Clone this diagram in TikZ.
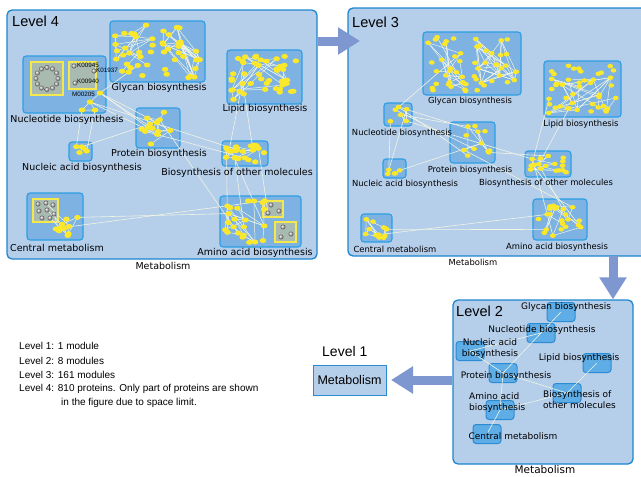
\documentclass[tikz,border=0pt]{standalone}
\usepackage{fontspec}
\setmainfont{Liberation Sans}
\newfontfamily\lucfont{DejaVu Sans}
\usetikzlibrary{arrows.meta,fit,shapes.geometric,positioning}

\definecolor{panelfill}{HTML}{B5CEEA}
\definecolor{paneledge}{HTML}{1E86CF}
\definecolor{modfill}{HTML}{7DB2E3}
\definecolor{modedge}{HTML}{2C9FE3}
\definecolor{lvtwofill}{HTML}{5EADE6}
\definecolor{lvtwoedge}{HTML}{2B8BD3}
\definecolor{dotyellow}{HTML}{FCE82A}
\definecolor{grpedge}{HTML}{F5E84C}
\definecolor{grpfill}{HTML}{A9BBB0}
\definecolor{weblines}{HTML}{F0F4E4}
\definecolor{arrowblue}{HTML}{7E97D0}

\pgfdeclarelayer{back}
\pgfdeclarelayer{lines}
\pgfsetlayers{back,lines,main}

% yellow proteins scattered in a module
\newcommand{\protdots}[7]{%
  \foreach \k in {1,...,#6}{
    \pgfmathsetmacro{\dotx}{#2+4+rnd*(#4-#2-8)}
    \pgfmathsetmacro{\doty}{#3+4+rnd*(#5-#3-8)}
    \node[#7] (#1-\k) at (\dotx,\doty) {};
  }%
}
% interactions among the first proteins of a module
\newcommand{\protweb}[3]{%
  \begin{pgfonlayer}{lines}
  \foreach \k in {1,...,#3}{
    \pgfmathtruncatemacro{\ea}{min(#2,1+floor(rnd*#2))}
    \pgfmathtruncatemacro{\eb}{min(#2,1+floor(rnd*#2))}
    \draw[web] (#1-\ea.center) -- (#1-\eb.center);
  }
  \end{pgfonlayer}%
}

\begin{document}
\begin{tikzpicture}[x=1pt,y=-1pt,
  panel/.style={draw=paneledge,fill=panelfill,line width=1.3pt,rounded corners=5pt,inner sep=0pt},
  module/.style={draw=modedge,fill=modfill,line width=1.1pt,rounded corners=3pt,inner sep=0pt},
  lvtwo/.style={draw=lvtwoedge,fill=lvtwofill,line width=1pt,rounded corners=3pt,minimum width=28pt,minimum height=19pt},
  grp/.style={draw=grpedge,fill=grpfill,line width=1.2pt,inner sep=0pt},
  pdot/.style={ellipse,fill=dotyellow,inner sep=0pt,minimum width=6.6pt,minimum height=5pt},
  sdot/.style={ellipse,fill=dotyellow,inner sep=0pt,minimum width=5.8pt,minimum height=4.5pt},
  gball/.style={circle,ball color=gray!60,inner sep=0pt,minimum size=5pt},
  web/.style={draw=weblines,line width=0.5pt},
  link/.style={draw=weblines,line width=0.6pt},
  title/.style={font=\fontsize{14.5}{16}\selectfont,anchor=west,inner sep=0pt},
  modlabel/.style={font=\lucfont\fontsize{9.5}{11}\selectfont,inner sep=0pt},
  smalllabel/.style={font=\lucfont\fontsize{8.4}{10}\selectfont,inner sep=0pt},
  twolabel/.style={font=\lucfont\fontsize{9}{11.5}\selectfont,inner sep=0pt},
  kegg/.style={font=\fontsize{6.3}{7}\selectfont,anchor=west,inner sep=0pt},
  legend/.style={font=\fontsize{10}{12}\selectfont,anchor=west,inner sep=0pt},
  bigarrow/.style={draw=arrowblue,line width=9pt,-{Triangle[width=26pt,length=22pt]}}]

\useasboundingbox (0,0) rectangle (641,477);
\pgfmathsetseed{41}

% ---------------- Level 4 ----------------
\begin{pgfonlayer}{back}
\node[panel,fit={(7,10) (317,259)}] (lv4) {};
\node[module,fit={(110,21) (205,82)}] (gly4) {};
\node[module,fit={(227,50) (302,104)}] (lip4) {};
\node[module,fit={(23,56) (106,113)}] (nuc4) {};
\node[module,fit={(136,108) (180,148)}] (pro4) {};
\node[module,fit={(69,142) (92,161)}] (nca4) {};
\node[module,fit={(222,141) (268,166)}] (bio4) {};
\node[module,fit={(27,193) (83,240)}] (cen4) {};
\node[module,fit={(220,196) (301,247)}] (ami4) {};
\node[grp,fit={(31,62) (63,95)}] (nuc4ring) {};
\node[grp,fit={(69,62) (96,89)}] (nuc4kegg) {};
\node[grp,fit={(33,199) (58,222)}] (cen4grp) {};
\node[grp,fit={(263,201) (283,217)}] (ami4grpa) {};
\node[grp,fit={(275,222) (296,242)}] (ami4grpb) {};
\end{pgfonlayer}
\node[title] (lv4-title) at (12,21) {Level 4};

\protdots{gly4a}{110}{21}{158}{82}{24}{pdot}
\protdots{gly4b}{158}{21}{205}{82}{24}{pdot}
\protweb{gly4a}{16}{22}
\protweb{gly4b}{12}{45}
\protdots{lip4}{227}{50}{302}{104}{44}{pdot}
\protweb{lip4}{15}{26}
\protdots{pro4}{136}{108}{180}{148}{14}{pdot}
\protweb{pro4}{12}{14}
\protdots{nca4}{69}{142}{92}{161}{5}{pdot}
\protdots{bio4}{222}{141}{268}{166}{20}{pdot}
\protweb{bio4}{12}{12}
\protdots{cen4}{48}{212}{84}{241}{10}{pdot}
\protweb{cen4}{10}{12}
\protdots{ami4}{220}{196}{270}{248}{24}{pdot}
\protweb{ami4}{18}{20}

% nucleotide module
\node[pdot] (nuc4-1) at (100,93) {};
\node[pdot] (nuc4-2) at (90,102) {};
\node[pdot] (nuc4-3) at (82,110) {};
\node[pdot] (nuc4-4) at (95,110) {};
\foreach \a in {0,30,...,330}
  \node[gball] (nuc4r-\a) at ({47+11*cos(\a)},{78.5+11*sin(\a)}) {};
\node[gball] (k945) at (74,66) {};
\node[gball] (k1937) at (94,71) {};
\node[gball] (k940) at (75,83) {};
\node[kegg] (k945-lab) at (77,65) {K00945};
\node[kegg] (k1937-lab) at (96,70) {K01937};
\node[kegg] (k940-lab) at (77,81) {K00940};
\node[kegg] (m205-lab) at (72,94) {M00205};

% central and amino acid groups
\foreach \gx/\gy [count=\i] in {38/204,46/203,53/205,39/211,47/210,54/214,42/218,50/218}
  \node[gball] (cen4g-\i) at (\gx,\gy) {};
\foreach \gx/\gy [count=\i] in {271/205,268/213,279/211,283/227,281/237,291/234}
  \node[gball] (ami4g-\i) at (\gx,\gy) {};

\begin{pgfonlayer}{lines}
\draw[web] (nuc4-1.center) -- (nuc4-2.center) -- (nuc4-3.center) -- (nuc4-4.center) -- (nuc4-2.center);
\draw[web] (cen4g-2.center) -- (cen4-1.center);
\draw[web] (cen4g-5.center) -- (cen4-3.center);
\draw[web] (cen4g-6.center) -- (cen4-5.center);
\draw[web] (cen4g-8.center) -- (cen4-2.center);
\draw[link] (nuc4-1.center) -- (gly4a-3.center);
\draw[link] (nuc4-1.center) -- (pro4-1.center);
\draw[link] (nuc4-1.center) -- (pro4-4.center);
\draw[link] (nuc4-2.center) -- (pro4-6.center);
\draw[link] (nuc4-1.center) -- (pro4-9.center);
\draw[link] (nuc4-2.center) -- (bio4-2.center);
\draw[link] (nuc4-3.center) -- (nca4-1.center);
\draw[link] (nuc4-4.center) -- (nca4-2.center);
\draw[link] (nca4-3.center) -- (pro4-7.center);
\draw[link] (pro4-5.center) -- (bio4-1.center);
\draw[link] (pro4-8.center) -- (ami4-3.center);
\draw[link] (bio4-3.center) -- (lip4-20.center);
\draw[link] (bio4-4.center) -- (lip4-25.center);
\draw[link] (bio4-6.center) -- (ami4-1.center);
\draw[link] (bio4-7.center) -- (ami4-5.center);
\draw[link] (bio4-8.center) -- (ami4-9.center);
\draw[link] (bio4-9.center) -- (ami4g-2.center);
\draw[link] (cen4-2.center) -- (ami4-4.center);
\draw[link] (cen4-6.center) -- (ami4-7.center);
\end{pgfonlayer}

\node[modlabel] (gly4-lab) at (159,88) {Glycan biosynthesis};
\node[modlabel] (lip4-lab) at (265,109) {Lipid biosynthesis};
\node[modlabel] (nuc4-lab) at (67,120) {Nucleotide biosynthesis};
\node[modlabel] (pro4-lab) at (159,154) {Protein biosynthesis};
\node[modlabel] (nca4-lab) at (82,168) {Nucleic acid biosynthesis};
\node[modlabel] (bio4-lab) at (237,173) {Biosynthesis of other molecules};
\node[modlabel] (cen4-lab) at (57,248) {Central metabolism};
\node[modlabel] (ami4-lab) at (255,253) {Amino acid biosynthesis};
\node[modlabel] (lv4-cap) at (163,266) {Metabolism};

% ---------------- Level 3 ----------------
\begin{pgfonlayer}{back}
\node[panel,fit={(348,8) (650,256)}] (lv3) {};
\node[module,fit={(423,32) (521,95)}] (gly3) {};
\node[module,fit={(544,61) (621,117)}] (lip3) {};
\node[module,fit={(384,103) (412,126)}] (nuc3) {};
\node[module,fit={(450,122) (495,163)}] (pro3) {};
\node[module,fit={(383,159) (406,178)}] (nca3) {};
\node[module,fit={(525,151) (571,177)}] (bio3) {};
\node[module,fit={(361,214) (392,242)}] (cen3) {};
\node[module,fit={(533,199) (587,240)}] (ami3) {};
\end{pgfonlayer}
\node[title] (lv3-title) at (352,22) {Level 3};

\protdots{gly3a}{423}{32}{470}{95}{28}{sdot}
\protdots{gly3b}{470}{32}{521}{95}{26}{sdot}
\protweb{gly3a}{16}{24}
\protweb{gly3b}{12}{45}
\protdots{lip3}{544}{61}{621}{117}{44}{sdot}
\protweb{lip3}{15}{28}
\protdots{nuc3}{384}{103}{412}{126}{6}{sdot}
\protweb{nuc3}{6}{6}
\protdots{pro3}{450}{122}{495}{163}{12}{sdot}
\protweb{pro3}{10}{10}
\protdots{nca3}{383}{159}{406}{178}{5}{sdot}
\protdots{bio3}{525}{151}{571}{177}{18}{sdot}
\protweb{bio3}{12}{10}
\protdots{cen3}{361}{214}{392}{242}{12}{sdot}
\protweb{cen3}{12}{14}
\protdots{ami3}{533}{199}{587}{240}{22}{sdot}
\protweb{ami3}{16}{16}

\begin{pgfonlayer}{lines}
\draw[link] (nuc3-1.center) -- (gly3a-5.center);
\draw[link] (nuc3-1.center) -- (pro3-1.center);
\draw[link] (nuc3-2.center) -- (pro3-3.center);
\draw[link] (nuc3-3.center) -- (pro3-5.center);
\draw[link] (nuc3-2.center) -- (pro3-8.center);
\draw[link] (nuc3-4.center) -- (bio3-2.center);
\draw[link] (nuc3-5.center) -- (nca3-1.center);
\draw[link] (nuc3-6.center) -- (nca3-2.center);
\draw[link] (nca3-3.center) -- (pro3-6.center);
\draw[link] (pro3-4.center) -- (bio3-1.center);
\draw[link] (pro3-7.center) -- (ami3-3.center);
\draw[link] (bio3-3.center) -- (lip3-20.center);
\draw[link] (bio3-4.center) -- (lip3-25.center);
\draw[link] (bio3-6.center) -- (ami3-1.center);
\draw[link] (bio3-7.center) -- (ami3-5.center);
\draw[link] (bio3-8.center) -- (ami3-9.center);
\draw[link] (cen3-2.center) -- (ami3-4.center);
\draw[link] (cen3-6.center) -- (ami3-7.center);
\end{pgfonlayer}

\node[smalllabel] (gly3-lab) at (470,101) {Glycan biosynthesis};
\node[smalllabel] (lip3-lab) at (581,124) {Lipid biosynthesis};
\node[smalllabel] (nuc3-lab) at (402,133) {Nucleotide biosynthesis};
\node[smalllabel] (pro3-lab) at (470,170) {Protein biosynthesis};
\node[smalllabel] (nca3-lab) at (405,184) {Nucleic acid biosynthesis};
\node[smalllabel] (bio3-lab) at (546,183) {Biosynthesis of other molecules};
\node[smalllabel] (cen3-lab) at (395,249) {Central metabolism};
\node[smalllabel] (ami3-lab) at (557,247) {Amino acid biosynthesis};
\node[smalllabel] (lv3-cap) at (473,262) {Metabolism};

% ---------------- Level 2 ----------------
\begin{pgfonlayer}{back}
\node[panel,fit={(453,300) (633,464)}] (lv2) {};
\node[lvtwo] (gly2) at (561,312) {};
\node[lvtwo] (nuc2) at (541,333) {};
\node[lvtwo] (nca2) at (470,351) {};
\node[lvtwo] (lip2) at (597,363) {};
\node[lvtwo] (pro2) at (503,373) {};
\node[lvtwo] (bio2) at (567,393) {};
\node[lvtwo] (ami2) at (500,410) {};
\node[lvtwo] (cen2) at (487,434) {};
\end{pgfonlayer}
\node[title] (lv2-title) at (456,311) {Level 2};

\begin{pgfonlayer}{lines}
\draw[link] (gly2.center) -- (nuc2.center);
\draw[link] (nuc2.center) -- (nca2.center);
\draw[link] (nuc2.center) -- (pro2.center);
\draw[link] (nca2.center) -- (pro2.center);
\draw[link] (pro2.center) -- (bio2.center);
\draw[link] (pro2.center) -- (ami2.center);
\draw[link] (bio2.center) -- (lip2.center);
\draw[link] (bio2.center) -- (ami2.center);
\draw[link] (ami2.center) -- (cen2.center);
\end{pgfonlayer}

\node[twolabel] (gly2-lab) at (566,307) {Glycan biosynthesis};
\node[twolabel] (nuc2-lab) at (542,330) {Nucleotide biosynthesis};
\node[twolabel,align=center] (nca2-lab) at (490,348.5) {Nucleic acid\\biosynthesis};
\node[twolabel] (lip2-lab) at (579,358) {Lipid biosynthesis};
\node[twolabel] (pro2-lab) at (506,376) {Protein biosynthesis};
\node[twolabel,align=left,anchor=west] (bio2-lab) at (543,399.5) {Biosynthesis of\\other molecules};
\node[twolabel,align=left,anchor=west] (ami2-lab) at (469,402.5) {Amino acid\\biosynthesis};
\node[twolabel] (cen2-lab) at (513,436) {Central metabolism};
\node[font=\lucfont\fontsize{10.5}{12}\selectfont,inner sep=0pt] (lv2-cap) at (545,470) {Metabolism};

% ---------------- Level 1 ----------------
\node[title,font=\fontsize{14}{16}\selectfont] (lv1-title) at (322,351) {Level 1};
\node[draw=lvtwoedge,fill=panelfill,line width=1pt,minimum width=73pt,minimum height=30pt,
      font=\fontsize{12.5}{14}\selectfont] (lv1) at (349.5,380) {Metabolism};

% arrows between levels
\coordinate (arrR) at (360,41);
\coordinate (arrD) at (613,256);
\coordinate (arrL) at (391,380);
\draw[bigarrow] (lv4.east |- arrR) -- (arrR);
\draw[bigarrow] (arrD) -- (arrD |- lv2.north);
\draw[bigarrow] (lv2.west |- arrL) -- (arrL);

% legend
\node[legend] (leg1) at (19,346) {Level 1: 1 module};
\node[legend] (leg2) at (19,361) {Level 2: 8 modules};
\node[legend] (leg3) at (19,375) {Level 3: 161 modules};
\node[legend] (leg4) at (19,389) {Level 4: 810 proteins. Only part of proteins are shown};
\node[legend] (leg5) at (61,403) {in the figure due to space limit.};
\end{tikzpicture}
\end{document}
